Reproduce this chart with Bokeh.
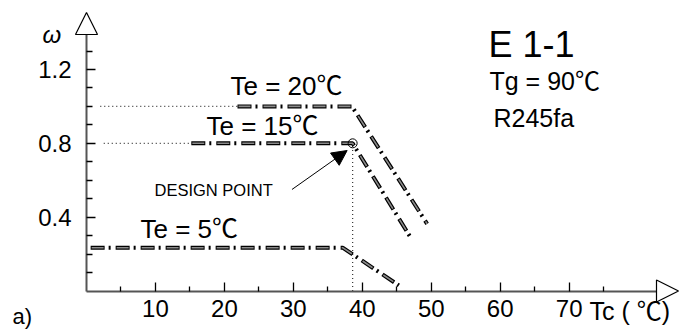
from bokeh.plotting import figure
from bokeh.models import (Range1d, FixedTicker, Label, Arrow, NormalHead, ColumnDataSource)
from bokeh.embed import file_html
from bokeh.resources import INLINE

# ---------------- data ----------------
te_labels = ["Te = 20\u2103", "Te = 15\u2103", "Te = 5\u2103"]
te20_tc = [21.9, 38.5, 49.4]
te20_w = [1.0, 1.0, 0.364]
te15_tc = [15.2, 38.6, 47.0]
te15_w = [0.8, 0.8, 0.29]
te5_tc = [0.6, 37.2, 45.3]
te5_w = [0.234, 0.234, 0.03]
design_tc = [38.6]
design_w = [0.8]
x_major = [10, 20, 30, 40, 50, 60, 70]
x_minor = [5, 15, 25, 35, 45, 55, 65, 75]
y_major = [0.4, 0.8, 1.2]
y_minor = [0.1, 0.2, 0.3, 0.5, 0.6, 0.7, 0.9, 1.0, 1.1, 1.3]

# ---------------- geometry ----------------
W, H = 681, 333
X0, Y0 = 86.0, 290.5          # pixel position of the origin
PX_X = 6.895                  # px per degree
PX_Y = 184.6                  # px per omega unit
x_axis_end = (658 - X0) / PX_X
y_axis_end = (Y0 - 32) / PX_Y

FONT = "Liberation Sans, 'Noto Sans CJK SC', sans-serif"

p = figure(output_backend="svg", toolbar_location=None, width=W, height=H,
           min_border=0,
           x_range=Range1d(-X0 / PX_X, (W - X0) / PX_X),
           y_range=Range1d(-(H - Y0) / PX_Y, Y0 / PX_Y),
           background_fill_color="white", border_fill_color="white")
p.outline_line_color = None
p.grid.visible = False

xa, ya = p.xaxis[0], p.yaxis[0]
xa.fixed_location = 0
ya.fixed_location = 0
xa.bounds = (0, x_axis_end)
ya.bounds = (0, y_axis_end)
for ax in (xa, ya):
    ax.axis_line_color = "#555555"
    ax.axis_line_width = 2
    ax.major_tick_line_color = "black"
    ax.minor_tick_line_color = "black"
    ax.major_tick_line_width = 1.3
    ax.minor_tick_line_width = 1.3
    ax.major_tick_in = 9
    ax.major_tick_out = 0
    ax.minor_tick_out = 0
    ax.major_label_text_font = FONT
    ax.major_label_text_font_size = "24px"
    ax.major_label_text_color = "black"

xa.ticker = FixedTicker(ticks=x_major, minor_ticks=x_minor)
xa.minor_tick_in = 5
xa.major_label_standoff = 9
ya.ticker = FixedTicker(ticks=y_major, minor_ticks=y_minor)
ya.minor_tick_in = 6
ya.major_label_standoff = 15

# dotted guide lines
p.line([2.0, te20_tc[0]], [te20_w[0], te20_w[0]], line_color="#333333", line_width=1.2, line_dash="1 3")
p.line([2.5, te15_tc[0]], [te15_w[0], te15_w[0]], line_color="#333333", line_width=1.2, line_dash="1 3")
p.line([design_tc[0], design_tc[0]], [0, design_w[0]], line_color="#333333", line_width=1.2, line_dash="1 3")

# curves: black dash-dot with grey core
for xs, ys in ((te20_tc, te20_w), (te15_tc, te15_w), (te5_tc, te5_w)):
    src = ColumnDataSource(dict(x=xs, y=ys))
    p.line("x", "y", source=src, line_color="black", line_width=4, line_dash="14 4 2 5")
    p.line("x", "y", source=src, line_color="#8a8a8a", line_width=1.6,
           line_dash="12 13", line_dash_offset=-1)

# design point
p.scatter(design_tc, design_w, marker="circle", size=9, fill_color=None,
          line_color="black", line_width=1)

# axis arrows
p.add_layout(Arrow(x_start=0, y_start=y_axis_end, x_end=0, y_end=y_axis_end + 20 / PX_Y,
                   line_color=None,
                   end=NormalHead(size=22, fill_color="white", line_color="black", line_width=1.2)))
p.add_layout(Arrow(x_start=x_axis_end, y_start=0, x_end=x_axis_end + 20 / PX_X, y_end=0,
                   line_color=None,
                   end=NormalHead(size=22, fill_color="white", line_color="black", line_width=1.2)))

# design point arrow
p.add_layout(Arrow(x_start=29.8, y_start=0.55, x_end=37.8, y_end=0.761,
                   line_color="black", line_width=1,
                   end=NormalHead(size=15, fill_color="black", line_color="black")))

def lab(px, py, text, fs, style="normal"):
    """px: left edge, py: baseline, in picture pixels."""
    dy = 0.3 * fs + 2
    p.add_layout(Label(x=(px - X0) / PX_X, y=(Y0 - (py - dy)) / PX_Y, text=text,
                       text_font=FONT, text_font_size=f"{fs}px",
                       text_font_style=style, text_color="black",
                       text_align="left", text_baseline="alphabetic"))

lab(230, 95.7, te_labels[0], 26)
lab(206, 135, te_labels[1], 26)
lab(140, 238.3, te_labels[2], 26)
lab(154, 196.7, "DESIGN POINT", 16.5)
lab(488, 56.7, "E 1-1", 36)
lab(489, 90, "Tg = 90\u2103", 25)
lab(493, 126.7, "R245fa", 25)
lab(589, 320, "Tc ( \u2103)", 25)
lab(42, 43, "\u03c9", 24, "italic")
lab(12, 325, "a)", 22)

open("out.html", "w").write(file_html(p, INLINE))
